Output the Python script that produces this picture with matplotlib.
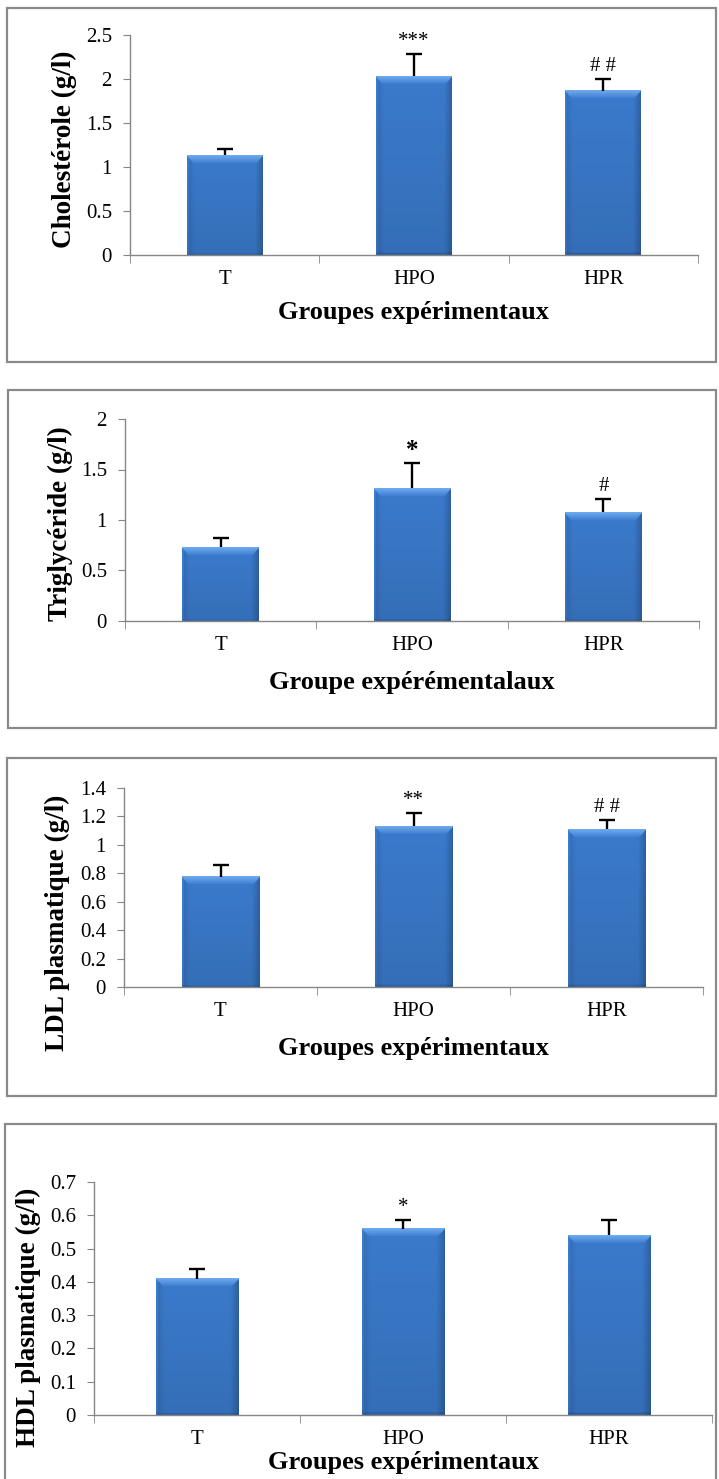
import numpy as np
import matplotlib
matplotlib.use('Agg')
import matplotlib.pyplot as plt
from matplotlib.patches import Rectangle

groups = ['T', 'HPO', 'HPR']

chol = [1.135, 2.03, 1.865]
chol_err = [0.07, 0.25, 0.135]
chol_marks = ['', '***', '# #']

tg = [0.73, 1.315, 1.075]
tg_err = [0.09, 0.25, 0.13]
tg_marks = ['', '*', '#']

ldl = [0.775, 1.13, 1.11]
ldl_err = [0.08, 0.095, 0.065]
ldl_marks = ['', '**', '# #']

hdl = [0.41, 0.56, 0.54]
hdl_err = [0.03, 0.027, 0.047]
hdl_marks = ['', '*', '']

W, H = 719, 1479
plt.rcParams['font.family'] = ['Liberation Serif', 'DejaVu Serif']
fig = plt.figure(figsize=(W / 100, H / 100), dpi=100)


def px_axes(left, right, bottom, top):
    return fig.add_axes([left / W, 1 - bottom / H, (right - left) / W, (bottom - top) / H])


def frame(x0, y0, x1, y1):
    r = Rectangle((x0 / W, 1 - y1 / H), (x1 - x0) / W, (y1 - y0) / H,
                  transform=fig.transFigure, fill=False, ec='#8a8a8a', lw=1.6)
    fig.add_artist(r)


def shaded(ax, rect, ymax, ax_h_px):
    # bevelled fill, Excel style, clipped to the bar rectangle
    x0, w, h = rect.get_x(), rect.get_width(), rect.get_height()
    n, m = 400, 80
    base = np.array([0.23, 0.48, 0.80])
    cols = np.linspace(0, 1, m)
    left = np.clip(cols / 0.10, 0, 1)
    right = np.clip((1 - cols) / 0.10, 0, 1)
    hfac = (0.88 + 0.12 * left) * (0.80 + 0.20 * right)
    hfac[cols < 0.015] = 1.02
    img = np.ones((n, m, 3)) * base * hfac[None, :, None]
    rows = np.linspace(0, 1, n)
    img *= (1.0 - 0.10 * rows)[:, None, None]
    bev = max(2, int(n * min(8 / ax_h_px * ymax / h, 0.5)))
    light = np.array([0.44, 0.67, 0.93])
    for r in range(bev):
        t = r / bev
        inset = int(m * 0.09 * t)
        mix = light * (1 - t) + base * 1.04 * t
        img[r, inset:m - inset] = mix
    img[-max(2, n // 60):] *= 0.88
    ax.imshow(np.clip(img, 0, 1), extent=[x0, x0 + w, 0, h], aspect='auto',
              zorder=2, clip_path=rect, interpolation='bilinear')


def panel(box, vals, errs, marks, ymax, ystep, ylabel, xlabel, frm, ylab_pos, xlab_y):
    ax = px_axes(*box)
    x = np.arange(len(groups))
    bars = ax.bar(x, vals, width=0.4, color='#3d7bcc', zorder=1)
    for b in bars:
        shaded(ax, b, ymax, box[2] - box[3])
        b.set_alpha(0)
    _, caps, _ = ax.errorbar(x, vals, yerr=[np.zeros(len(vals)), errs], fmt='none',
                             ecolor='black', elinewidth=1.7, capsize=6, capthick=1.7,
                             zorder=3)
    caps[0].set_visible(False)
    for i, m in enumerate(marks):
        if m:
            big = m == '*' and ylabel.startswith('Tri')
            ax.annotate(m, (x[i], vals[i] + errs[i]), xytext=(0, 9),
                        textcoords='offset points', ha='center', va='center',
                        fontsize=18 if big else 15,
                        fontweight='bold' if big else 'normal')
    ticks = np.round(np.arange(0, ymax + 1e-9, ystep), 2)
    ax.set_xlim(-0.5, len(groups) - 0.5)
    ax.set_ylim(0, ymax)
    ax.set_yticks(ticks)
    ax.set_yticklabels([f'{v:g}' for v in ticks])
    ax.set_xticks(x)
    ax.set_xticklabels(groups)
    ax.set_xticks(np.arange(-0.5, len(groups)), minor=True)
    ax.tick_params(axis='x', which='major', length=0, pad=11, labelsize=15)
    ax.tick_params(axis='x', which='minor', length=6, direction='out', color='#868686')
    ax.tick_params(axis='y', length=5, direction='out', color='#868686', pad=8, labelsize=15)
    for s in ['top', 'right']:
        ax.spines[s].set_visible(False)
    for s in ['left', 'bottom']:
        ax.spines[s].set_color('#868686')
        ax.spines[s].set_linewidth(1.0)
    ax.patch.set_alpha(0)
    frame(*frm)
    fig.text(ylab_pos[0] / W, 1 - ylab_pos[1] / H, ylabel, rotation=90,
             ha='center', va='center', fontsize=19.5, fontweight='bold')
    fig.text((box[0] + box[1]) / 2 / W, 1 - xlab_y / H, xlabel,
             ha='center', va='center', fontsize=19, fontweight='bold')


panel((130, 698, 255, 35), chol, chol_err, chol_marks, 2.5, 0.5,
      'Cholestérole (g/l)', 'Groupes expérimentaux',
      (7, 8, 716, 362), (64, 149), 313)
panel((125, 699, 621, 419), tg, tg_err, tg_marks, 2.0, 0.5,
      'Triglycéride (g/l)', 'Groupe expérémentalaux',
      (8, 390, 716, 728), (60, 524), 682)
panel((124, 703, 987, 788), ldl, ldl_err, ldl_marks, 1.4, 0.2,
      'LDL plasmatique (g/l)', 'Groupes expérimentaux',
      (7, 758, 716, 1096), (57, 923), 1048)
panel((94, 712, 1415, 1182), hdl, hdl_err, hdl_marks, 0.7, 0.1,
      'HDL plasmatique (g/l)', 'Groupes expérimentaux',
      (5, 1124, 716, 1490), (28, 1317), 1463)

fig.savefig('out.png', dpi=100)
